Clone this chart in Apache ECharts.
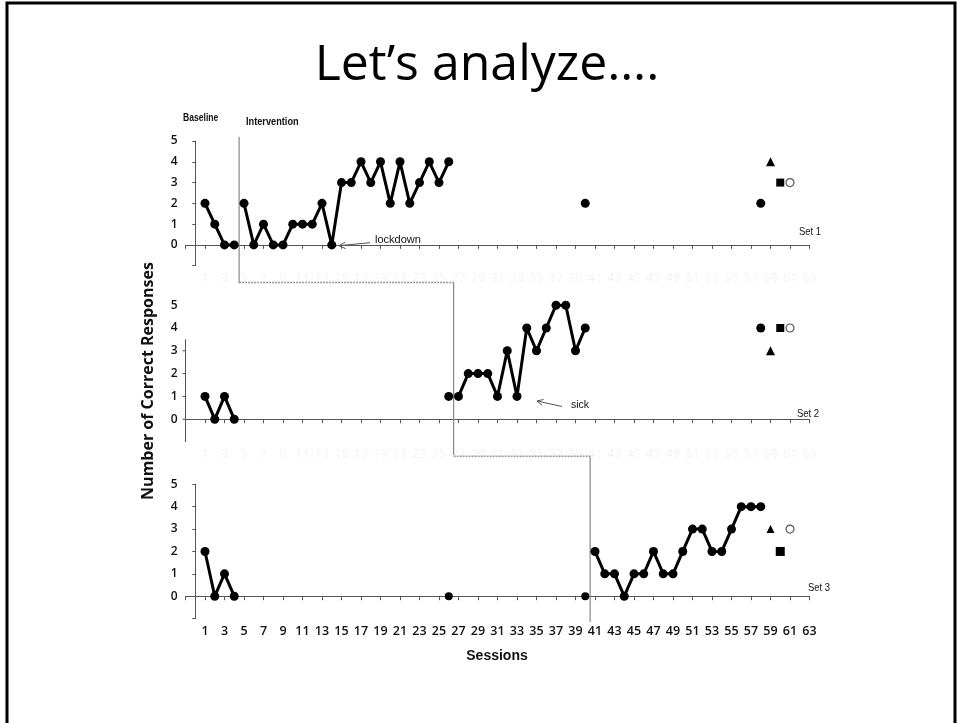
<!DOCTYPE html>
<html>
<head>
<meta charset="utf-8">
<script src="https://cdn.jsdelivr.net/npm/echarts@6/dist/echarts.min.js"></script>
<style>
html,body{margin:0;padding:0;background:#fff;}
#c{width:960px;height:723px;}
</style>
</head>
<body>
<div id="c"></div>
<script>
// ---------- data ----------
const xTickMin = -1, xTickMax = 63;

// Set 1
const set1BaseX = [1, 2, 3, 4];
const set1BaseY = [2, 1, 0, 0];
const set1IntX = [5, 6, 7, 8, 9, 10, 11, 12, 13, 14, 15, 16, 17, 18, 19, 20, 21, 22, 23, 24, 25, 26];
const set1IntY = [2, 0, 1, 0, 0, 1, 1, 1, 2, 0, 3, 3, 4, 3, 4, 2, 4, 2, 3, 4, 3, 4];
const set1ProbeX = [40, 58];
const set1ProbeY = [2, 2];
const set1TriX = [59], set1TriY = [4];
const set1SqX = [60], set1SqY = [3];
const set1CircX = [61], set1CircY = [3];

// Set 2
const set2BaseX = [1, 2, 3, 4];
const set2BaseY = [1, 0, 1, 0];
const set2ProbeX = [26, 58];
const set2ProbeY = [1, 4];
const set2IntX = [27, 28, 29, 30, 31, 32, 33, 34, 35, 36, 37, 38, 39, 40];
const set2IntY = [1, 2, 2, 2, 1, 3, 1, 4, 3, 4, 5, 5, 3, 4];
const set2TriX = [59], set2TriY = [3];
const set2SqX = [60], set2SqY = [4];
const set2CircX = [61], set2CircY = [4];

// Set 3
const set3BaseX = [1, 2, 3, 4];
const set3BaseY = [2, 0, 1, 0];
const set3ProbeX = [26, 40];
const set3ProbeY = [0, 0];
const set3IntX = [41, 42, 43, 44, 45, 46, 47, 48, 49, 50, 51, 52, 53, 54, 55, 56, 57, 58];
const set3IntY = [2, 1, 1, 0, 1, 1, 2, 1, 1, 2, 3, 3, 2, 2, 3, 4, 4, 4];
const set3TriX = [59], set3TriY = [3];
const set3SqX = [60], set3SqY = [2];
const set3CircX = [61], set3CircY = [3];

// phase change lines (session positions)
const phaseX = [4.5, 26.5, 40.5];
// set 2 partial y-axis extent
const set2AxisTop = 3.5;
const set2AxisTicks = [0, 1, 2, 3];

// ---------- helpers ----------
const zip = (xs, ys) => xs.map((x, i) => [x, ys[i]]);
const NARROW = '"Liberation Sans Narrow", "Liberation Sans", Arial, sans-serif';
const NUM_FONT = '"Open Sans", "Noto Sans", sans-serif';

function lineSeries(idx, xs, ys, size) {
  return {
    type: 'line', xAxisIndex: idx, yAxisIndex: idx,
    data: zip(xs, ys), symbol: 'circle', symbolSize: size || 9,
    itemStyle: { color: '#000', opacity: 1 }, lineStyle: { color: '#000', width: 3 },
    silent: true, z: 5, animation: false
  };
}
function dotSeries(idx, xs, ys, symbol, size, hollow) {
  return {
    type: 'scatter', xAxisIndex: idx, yAxisIndex: idx,
    data: zip(xs, ys), symbol: symbol, symbolSize: size,
    itemStyle: hollow ? { color: '#fff', borderColor: '#555', borderWidth: 1.2, opacity: 1 } : { color: '#000', opacity: 1 },
    silent: true, z: 5, animation: false
  };
}
function guide(idx, pts, dashed) {
  return {
    type: 'line', xAxisIndex: idx, yAxisIndex: idx, data: pts,
    symbol: 'none', clip: false, silent: true, animation: false, z: 3,
    lineStyle: { color: dashed ? '#999' : '#888', width: dashed ? 1.5 : 1.2, type: dashed ? [2, 1] : 'solid' }
  };
}

const grids = [
  { left: 185.5, width: 624, top: 141, height: 124.7 },
  { left: 185.5, width: 624, top: 305.2, height: 136.8 },
  { left: 185.5, width: 624, top: 484.3, height: 134.3 }
];

function xAxis(idx, showLabels) {
  return {
    type: 'value', gridIndex: idx, min: xTickMin, max: xTickMax, interval: 2,
    axisLine: { show: true, lineStyle: { color: '#555', width: 1 } },
    axisTick: { show: true, length: 4, lineStyle: { color: '#555' } },
    splitLine: { show: false },
    axisLabel: {
      show: true, margin: 6,
      color: showLabels ? '#111' : '#f3f3f3',
      fontFamily: NUM_FONT, fontSize: 12.5, fontWeight: showLabels ? 600 : 400,
      formatter: v => (v < 1 ? '' : String(v))
    }
  };
}
function yAxis(idx, fullLine) {
  return {
    type: 'value', gridIndex: idx, min: -1, max: 5, interval: 1,
    axisLine: { show: fullLine, lineStyle: { color: '#555', width: 1 } },
    axisTick: { show: fullLine, length: 3, lineStyle: { color: '#555' } },
    splitLine: { show: false },
    axisLabel: {
      margin: 8, color: '#111', fontFamily: NUM_FONT, fontSize: 12, fontWeight: 600,
      formatter: v => (v < 0 ? '' : String(v))
    }
  };
}

const series = [
  // Set 1
  lineSeries(0, set1BaseX, set1BaseY),
  lineSeries(0, set1IntX, set1IntY),
  dotSeries(0, set1ProbeX, set1ProbeY, 'circle', 9),
  dotSeries(0, set1TriX, set1TriY, 'triangle', 9),
  dotSeries(0, set1SqX, set1SqY, 'rect', 8),
  dotSeries(0, set1CircX, set1CircY, 'circle', 8, true),
  // Set 2
  lineSeries(1, set2BaseX, set2BaseY),
  lineSeries(1, set2IntX, set2IntY),
  dotSeries(1, set2ProbeX, set2ProbeY, 'circle', 9),
  dotSeries(1, set2TriX, set2TriY, 'triangle', 9),
  dotSeries(1, set2SqX, set2SqY, 'rect', 8),
  dotSeries(1, set2CircX, set2CircY, 'circle', 8, true),
  // Set 3
  lineSeries(2, set3BaseX, set3BaseY),
  lineSeries(2, set3IntX, set3IntY),
  dotSeries(2, set3ProbeX, set3ProbeY, 'circle', 8),
  dotSeries(2, set3TriX, set3TriY, 'triangle', 8),
  dotSeries(2, set3SqX, set3SqY, 'rect', 9),
  dotSeries(2, set3CircX, set3CircY, 'circle', 8, true),
  // phase change lines
  guide(0, [[phaseX[0], 5.2], [phaseX[0], -1.84]], false),
  guide(1, [[phaseX[0], 6], [phaseX[1], 6]], true),
  guide(1, [[phaseX[1], 6], [phaseX[1], -1.57]], false),
  guide(2, [[phaseX[1], 6.25], [phaseX[2], 6.25]], true),
  guide(2, [[phaseX[2], 6.25], [phaseX[2], -1.15]], false),
  // set 2 partial y axis line + ticks
  {
    type: 'line', xAxisIndex: 1, yAxisIndex: 1, data: [[xTickMin, -1], [xTickMin, set2AxisTop]],
    symbol: 'none', silent: true, animation: false, clip: false,
    lineStyle: { color: '#555', width: 1 }
  },
  {
    type: 'scatter', xAxisIndex: 1, yAxisIndex: 1, data: set2AxisTicks.map(v => [xTickMin, v]),
    symbol: 'rect', symbolSize: [3, 1], symbolOffset: [-1.5, 0], silent: true, animation: false, clip: false,
    itemStyle: { color: '#555', opacity: 1 }
  }
];

function label(x, y, text, size, weight, sx) {
  return {
    type: 'text', x: x, y: y, scaleX: sx || 1, silent: true,
    style: { text: text, fontSize: size, fontWeight: weight || 'normal', fontFamily: NARROW, fill: '#111', textVerticalAlign: 'middle' }
  };
}

const graphic = [
  // slide frame
  { type: 'rect', shape: { x: 7, y: 3, width: 948, height: 740 }, style: { fill: null, stroke: '#000', lineWidth: 3 }, silent: true },
  // title
  { type: 'text', x: 487, y: 66, silent: true,
    style: { text: 'Let\u2019s analyze\u2026.', fontSize: 50, fontFamily: '"Open Sans", sans-serif', fill: '#000', textAlign: 'center', textVerticalAlign: 'middle' } },
  label(183, 118, 'Baseline', 10, 'bold', 0.86),
  label(246, 122, 'Intervention', 10, 'bold', 0.92),
  label(375, 240, 'lockdown', 10.5, 'normal', 1.05),
  label(571, 405, 'sick', 10.5, 'normal', 1),
  label(799, 232, 'Set 1', 10.5, 'normal', 0.9),
  label(797, 414, 'Set 2', 10.5, 'normal', 0.9),
  label(808, 588, 'Set 3', 10.5, 'normal', 0.9),
  // arrows
  { type: 'polyline', silent: true, shape: { points: [[370, 242.7], [339, 245.7]] }, style: { stroke: '#555', lineWidth: 1, fill: null } },
  { type: 'polyline', silent: true, shape: { points: [[345, 242.2], [339, 245.7], [345.6, 248.6]] }, style: { stroke: '#555', lineWidth: 1, fill: null } },
  { type: 'polyline', silent: true, shape: { points: [[562, 406.5], [537, 401]] }, style: { stroke: '#555', lineWidth: 1, fill: null } },
  { type: 'polyline', silent: true, shape: { points: [[543.5, 399.5], [537, 401], [542.2, 405.4]] }, style: { stroke: '#555', lineWidth: 1, fill: null } },
  // axis titles
  { type: 'text', x: 148, y: 381, rotation: Math.PI / 2, silent: true,
    style: { text: 'Number of Correct Responses', fontSize: 16, fontWeight: 'bold', fontFamily: '"Open Sans", "Noto Sans", sans-serif', fill: '#111', textAlign: 'center', textVerticalAlign: 'middle' } },
  { type: 'text', x: 497, y: 656, silent: true,
    style: { text: 'Sessions', fontSize: 14, fontWeight: 'bold', fontFamily: '"Liberation Sans", Arial, sans-serif', fill: '#111', textAlign: 'center', textVerticalAlign: 'middle' } }
];

const chart = echarts.init(document.getElementById('c'), null, { renderer: 'canvas' });
chart.setOption({
  backgroundColor: '#fff',
  animation: false,
  grid: grids,
  xAxis: [xAxis(0, false), xAxis(1, false), xAxis(2, true)],
  yAxis: [yAxis(0, true), yAxis(1, false), yAxis(2, true)],
  series: series,
  graphic: graphic
});
</script>
</body>
</html>
